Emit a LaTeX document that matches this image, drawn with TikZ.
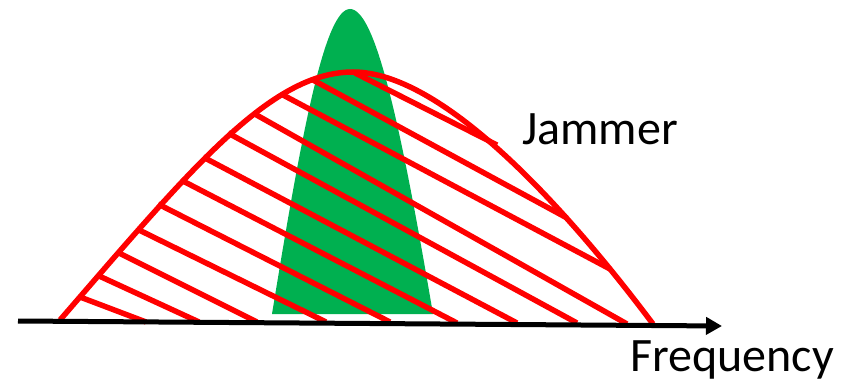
\documentclass[tikz,border=0pt]{standalone}
\usepackage{fontspec}
\setmainfont{Carlito}
\definecolor{jamred}{RGB}{255,0,0}
\definecolor{siggreen}{RGB}{0,176,80}
\usetikzlibrary{arrows.meta}

\begin{document}
\begin{tikzpicture}[x=1pt, y=-1pt,
  hatch/.style={draw=jamred, line width=5.5pt},
  lbl/.style={font=\fontsize{48}{52}\selectfont, inner sep=0pt, anchor=base west}]
  \useasboundingbox (0,0) rectangle (850,379);
  % narrow signal
  \fill[siggreen] (272,314) .. controls (302,130) and (325,9) .. (350,9)
    .. controls (375,9) and (400,120) .. (433,314) -- cycle;
  % jammer spectrum
  \draw[hatch] (60,320) .. controls (190,170) and (270,72) .. (353,72)
    .. controls (440,72) and (560,200) .. (653,324);
  \foreach \xa/\ya/\xb/\yb in {80/297/146/322, 97/275/199/322, 117/252/257/322,
      137/229/326/322, 158/204/390/322, 181/180/457/323,
      203/157/517/323, 228/133/577/323, 253/113/627/324,
      283/95/610/269, 313/80/567/218, 355/73/497/145}
    \draw[hatch] (\xa,\ya) -- (\xb,\yb);
  % axis
  \coordinate (axl) at (18,321);
  \coordinate (axr) at (722,326);
  \draw[line width=5pt, -{Triangle[length=16pt, width=17pt]}] (axl) -- (axr);
  \node[lbl] (jammer) at (522,145) {Jammer};
  \node[lbl] (freq) at (630,371) {Frequency};
\end{tikzpicture}
\end{document}
